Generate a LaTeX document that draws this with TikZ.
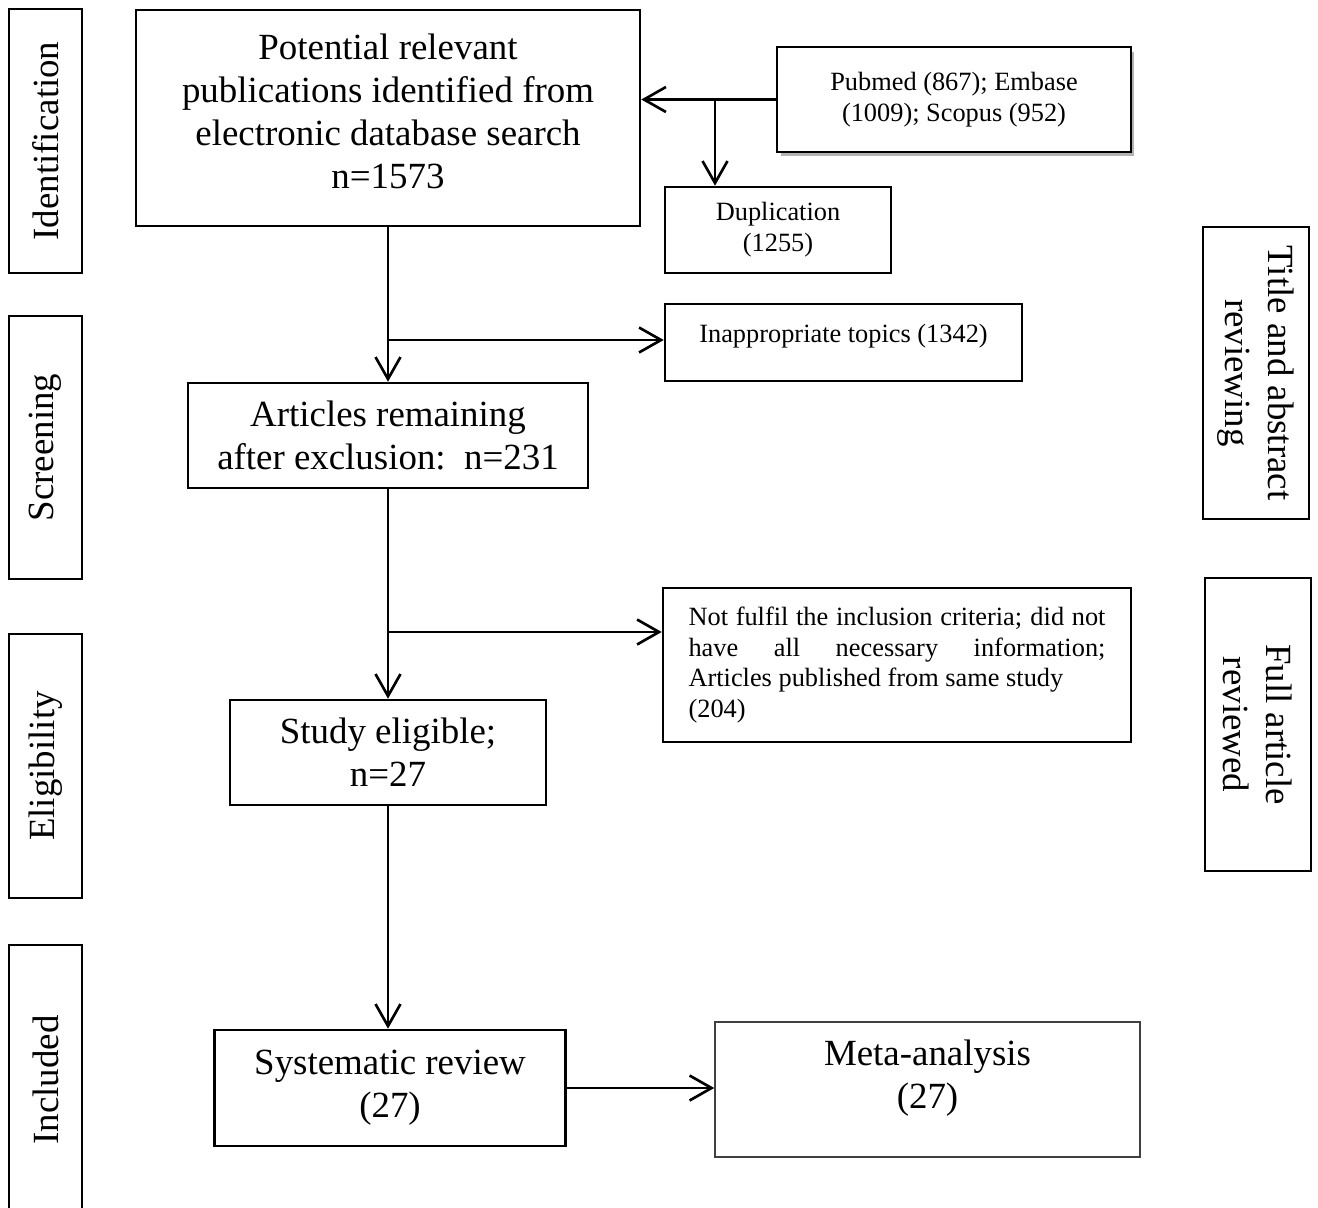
\documentclass[tikz,border=0pt]{standalone}
\usepackage{fontspec}
\setmainfont{Liberation Serif}
\usetikzlibrary{arrows.meta,shadows}

\begin{document}
\begin{tikzpicture}[x=0.02cm,y=-0.02cm,
    box/.style={draw,line width=1.5pt,align=center,inner sep=0,font=\bigfontsize},
    smallbox/.style={box,font=\smallfontsize},
    stagebox/.style={box,minimum height=1.46cm},
    arrow/.style={line width=1.5pt,-{Straight Barb[length=4.4mm,width=5mm]}}]
    \providecommand{\bigfontsize}{\fontsize{21pt}{24.5pt}\selectfont}
    \providecommand{\smallfontsize}{\fontsize{15pt}{17.6pt}\selectfont}
    \useasboundingbox (0,0) rectangle (1318,1207);
    \fill[white] (0,0) rectangle (1318,1207);
    % stages on the left
    \node[stagebox,rotate=90,minimum width=5.28cm] (ident) at (45.5,141) {Identification};
    \node[stagebox,rotate=90,minimum width=5.26cm] (screen) at (45.5,447.5) {Screening};
    \node[stagebox,rotate=90,minimum width=5.28cm] (elig) at (45.5,766) {Eligibility};
    \node[stagebox,rotate=90,minimum width=5.4cm] (incl) at (45.5,1080) {Included};
    % reviewing steps on the right
    \node[box,rotate=-90,minimum width=5.84cm,minimum height=2.12cm] (titlerev) at (1256,373) {Title and abstract\\reviewing};
    \node[box,rotate=-90,minimum width=5.86cm,minimum height=2.12cm] (fullrev) at (1258,724.5) {Full article\\reviewed};
    % main column
    \node[box,minimum width=10.08cm,minimum height=4.32cm,text depth=0.26cm] (pot) at (388,118)
        {Potential relevant\\publications identified from\\electronic database search\\n=1573};
    \node[box,minimum width=8cm,minimum height=2.1cm] (remain) at (388,435.5) {Articles remaining\\after exclusion:\ \ n=231};
    \node[box,minimum width=6.32cm,minimum height=2.1cm] (study) at (388,752.5) {Study eligible;\\n=27};
    \node[box,minimum width=7.02cm,minimum height=2.32cm] (sys) at (390,1088) {Systematic review\\(27)};
    \node[box,draw=black!75,line width=0.9pt,minimum width=8.5cm,minimum height=2.7cm,text depth=0.62cm] (meta) at (927.5,1089.5) {Meta-analysis\\(27)};
    % side boxes
    \node[smallbox,minimum width=7.08cm,minimum height=2.1cm,fill=white,
        drop shadow={shadow xshift=0.7mm,shadow yshift=-0.9mm,fill=black,opacity=0.3}] (db) at (954,99.5)
        {Pubmed (867); Embase\\(1009); Scopus (952)};
    \node[smallbox,minimum width=4.52cm,minimum height=1.72cm] (dup) at (778,230) {Duplication\\(1255)};
    \node[smallbox,minimum width=7.14cm,minimum height=1.54cm,text depth=0.38cm] (topic) at (843.5,342.5) {Inappropriate topics (1342)};
    \node[smallbox,minimum width=9.36cm,minimum height=3.08cm,text width=8.34cm,align=justify] (crit) at (897,665)
        {Not fulfil the inclusion criteria; did not\linebreak have all necessary information;\linebreak Articles published from same study\\(204)};
    % connectors
    \coordinate (dbfork) at (715,99.5);
    \coordinate (topicfork) at (388,340);
    \coordinate (critfork) at (388,632);
    \draw[arrow] (db.west) -- (pot.east |- db.west);
    \draw[arrow] (dbfork) -- (dbfork |- dup.north);
    \draw[arrow] (pot.south) -- (remain.north);
    \draw[arrow] (topicfork) -- (topicfork -| topic.west);
    \draw[arrow] (remain.south) -- (study.north);
    \draw[arrow] (critfork) -- (critfork -| crit.west);
    \draw[arrow] (study.south) -- (study.south |- sys.north);
    \draw[arrow] (sys.east) -- (meta.west |- sys.east);
\end{tikzpicture}
\end{document}
